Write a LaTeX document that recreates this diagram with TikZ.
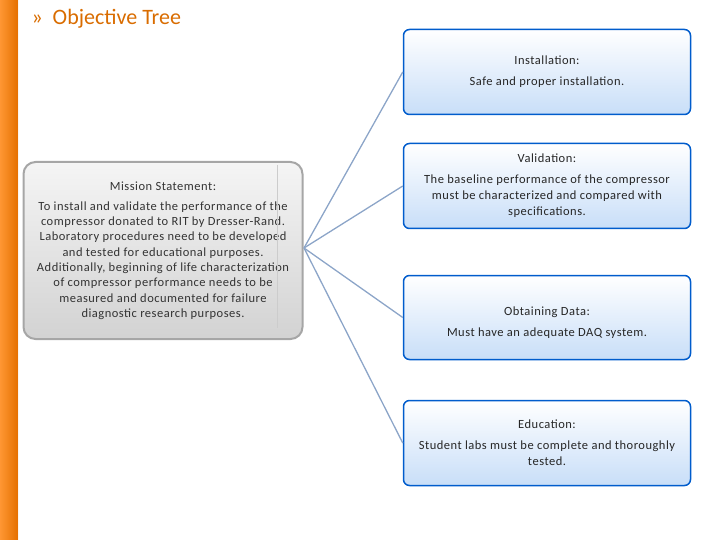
\documentclass[tikz,border=0pt]{standalone}
\usepackage{fontspec}
\setmainfont[LetterSpace=4]{Carlito}
\newfontfamily\titlefont{Carlito}
\definecolor{steel}{RGB}{140,165,200}
\definecolor{boxbot}{RGB}{200,222,248}
\begin{document}
\begin{tikzpicture}[x=1pt,y=-1pt,
  obj/.style={draw=blue!55!cyan!80!black,line width=1.5pt,rounded corners=6pt,top color=white,bottom color=boxbot,minimum width=287pt,align=center,font=\fontsize{12.5}{16}\selectfont,text=black!85},
  con/.style={draw=steel,line width=1.3pt}]
\useasboundingbox (0,0) rectangle (720,540);
\fill[orange!85!red!90!yellow] (0,0) rectangle (18,540);
\shade[left color=orange!60,right color=orange!80!black,opacity=0.5] (0,0) rectangle (18,540);
\node[anchor=west,text=orange!85!black,font=\titlefont\fontsize{22}{24}\selectfont] (title) at (28,19) {»\ \ Objective Tree};
\node[draw=gray!70,line width=2pt,rounded corners=12pt,top color=gray!8,bottom color=gray!35,minimum width=279pt,minimum height=177pt,align=center,font=\fontsize{12.5}{15.3}\selectfont,text=black!80] (m) at (163,250.5) {Mission Statement:\\[5pt]To install and validate the performance of the\\compressor donated to RIT by Dresser-Rand.\\Laboratory procedures need to be developed\\and tested for educational purposes.\\Additionally, beginning of life characterization\\of compressor performance needs to be\\measured and documented for failure\\diagnostic research purposes.};
\draw[gray!40,line width=1pt] (277,165) -- (277,328);
\node[obj,minimum height=85pt] (a) at (547,72) {Installation:\\[5pt]Safe and proper installation.};
\node[obj,minimum height=85pt] (b) at (547,186) {Validation:\\[5pt]The baseline performance of the compressor\\must be characterized and compared with\\specifications.};
\node[obj,minimum height=84pt] (c) at (547,317.5) {\\[4pt]Obtaining Data:\\[5pt]Must have an adequate DAQ system.};
\node[obj,minimum height=85pt] (d) at (547,443) {Education:\\[5pt]Student labs must be complete and thoroughly\\tested.};
\coordinate (o) at (304,248);
\foreach \t in {a,b,c,d} \draw[con] (o) -- (\t.west);
\end{tikzpicture}
\end{document}
